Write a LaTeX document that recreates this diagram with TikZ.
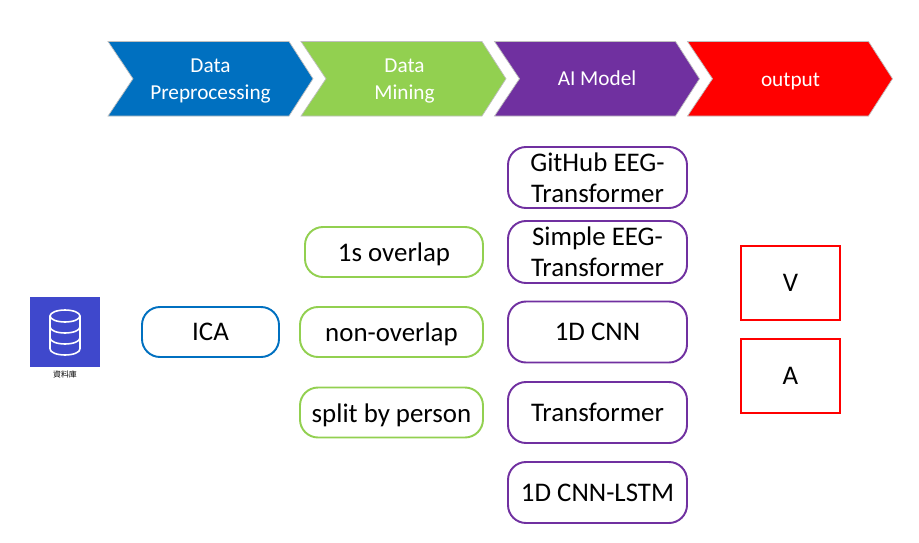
\documentclass[tikz,border=0pt]{standalone}
\usepackage{fontspec}
\setmainfont{Carlito}
\newfontfamily\cjkfont{Noto Sans CJK TC}
\usepackage{xcolor}
\usetikzlibrary{positioning}
\definecolor{PrepBlue}{HTML}{0070C0}
\definecolor{MineGreen}{HTML}{92D050}
\definecolor{ModelPurple}{HTML}{7030A0}
\definecolor{OutRed}{HTML}{FF0000}
\definecolor{DbBlue}{HTML}{3F48CC}
\tikzset{
  stagelabel/.style={text=white,font=\fontsize{12.1}{14.9}\selectfont,align=center},
  roundbox/.style={draw=#1,line width=1.1pt,rounded corners=0.36cm,fill=white,
    font=\fontsize{15.3}{17.8}\selectfont,align=center,inner sep=0pt},
  minebox/.style={roundbox=MineGreen,minimum height=1cm,text height=0.38cm,text depth=0cm},
  outbox/.style={draw=OutRed,line width=1.1pt,font=\fontsize{15.3}{17.8}\selectfont,
    minimum width=1.98cm,minimum height=1.48cm,inner sep=0pt},
}
\begin{document}
\begin{tikzpicture}
  \useasboundingbox (0,0) rectangle (18.38,10.84);
  % stages across the top
  \foreach \x/\col/\name/\lx/\ly/\txt in {2.16/PrepBlue/prep/4.21/9.22/{Data\\Preprocessing},
      6.02/MineGreen/mine/8.09/9.22/{Data\\Mining},
      9.89/ModelPurple/model/11.94/9.27/{AI Model},
      13.75/OutRed/out/15.81/9.22/{output}} {
    \draw[fill=\col,draw=black!25,line width=0.4pt] (\x,10.01) -- ++(3.62,0) -- ++(0.48,-0.745)
      -- ++(-0.48,-0.745) -- ++(-3.62,0) -- ++(0.5,0.745) -- cycle;
    \node[stagelabel] (\name) at (\lx,\ly) {\txt};
  }
  % database icon
  \node[fill=DbBlue,minimum size=1.4cm,inner sep=0pt] (db) at (1.3,4.2) {};
  \begin{scope}[white,line width=0.9pt]
    \draw (1.0,3.86) -- (1.0,4.52) (1.6,3.86) -- (1.6,4.52);
    \draw (1.3,4.52) ellipse (0.3cm and 0.12cm);
    \draw (1.0,4.30) arc[start angle=180,end angle=360,x radius=0.3cm,y radius=0.12cm];
    \draw (1.0,4.08) arc[start angle=180,end angle=360,x radius=0.3cm,y radius=0.12cm];
    \draw (1.0,3.86) arc[start angle=180,end angle=360,x radius=0.3cm,y radius=0.12cm];
  \end{scope}
  \node[font=\cjkfont\fontsize{4.5}{5}\selectfont,text=black,inner sep=0pt] (dblabel) at (1.3,3.36) {資料庫};
  % preprocessing
  \node[roundbox=PrepBlue,minimum width=2.74cm,minimum height=1cm] (ica) at (4.21,4.2) {ICA};
  % mining
  \node[minebox,minimum width=3.56cm] (overlap) at (7.88,5.8) {1s overlap};
  \node[minebox,minimum width=3.66cm] (nonoverlap) at (7.83,4.2) {non-overlap};
  \node[minebox,minimum width=3.66cm] (split) at (7.83,2.59) {split by person};
  % models
  \node[roundbox=ModelPurple,minimum width=3.58cm,minimum height=1.22cm] (github) at (11.95,7.29) {GitHub EEG-\\Transformer};
  \node[roundbox=ModelPurple,minimum width=3.58cm,minimum height=1.24cm] (simple) at (11.95,5.8) {Simple EEG-\\Transformer};
  \node[roundbox=ModelPurple,minimum width=3.58cm,minimum height=1.22cm] (cnn) at (11.95,4.2) {1D CNN};
  \node[roundbox=ModelPurple,minimum width=3.58cm,minimum height=1.22cm] (transformer) at (11.95,2.59) {Transformer};
  \node[roundbox=ModelPurple,minimum width=3.58cm,minimum height=1.22cm] (lstm) at (11.95,0.99) {1D CNN-LSTM};
  % outputs
  \node[outbox] (v) at (15.81,5.18) {V};
  \node[outbox] (a) at (15.81,3.32) {A};
\end{tikzpicture}
\end{document}
